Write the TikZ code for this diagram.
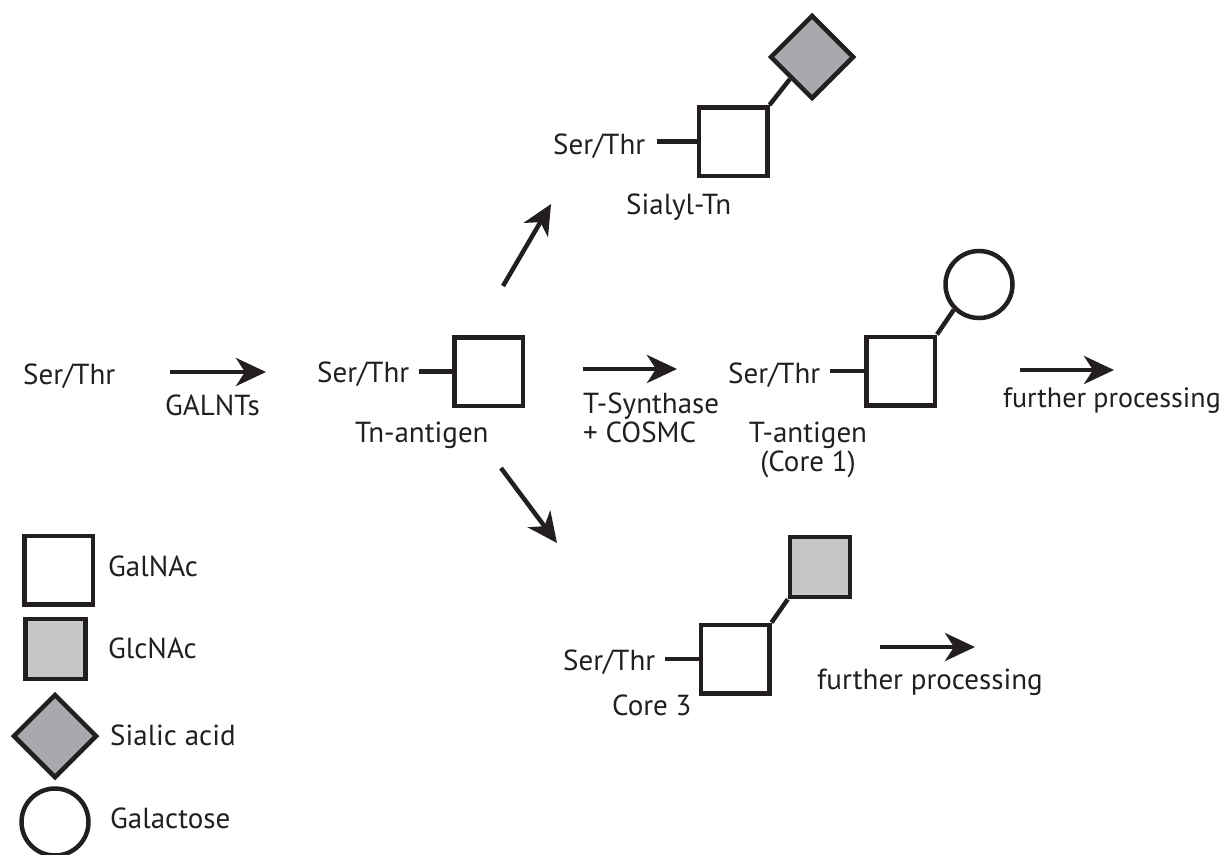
\documentclass[tikz,border=0pt]{standalone}
\usepackage{fontspec}
\setmainfont{PT Sans}
\usetikzlibrary{arrows.meta,shapes.geometric}
\definecolor{ink}{HTML}{231F20}
\definecolor{siagray}{HTML}{A7A9AC}
\definecolor{glcgray}{HTML}{C6C7C9}
\begin{document}
\begin{tikzpicture}[x=1pt,y=-1pt,
  txt/.style={font=\fontsize{29}{34}\selectfont, text=ink, inner sep=0pt, anchor=base west},
  ctxt/.style={font=\fontsize{29}{34}\selectfont, text=ink, inner sep=0pt, anchor=base},
  sugar/.style={draw=ink, line width=4.5pt, inner sep=0pt},
  galnac/.style={sugar, rectangle, fill=white, minimum size=68.5pt},
  glcnac/.style={sugar, rectangle, fill=glcgray, minimum size=60pt},
  sialic/.style={sugar, diamond, aspect=1, fill=siagray, minimum width=84pt, minimum height=84pt},
  galac/.style={sugar, circle, fill=white, minimum size=67pt},
  bond/.style={draw=ink, line width=4.5pt},
  rxn/.style={draw=ink, line width=4.5pt, -{Stealth[length=30pt,width=28pt,inset=9pt]}}
]
\useasboundingbox (0,0) rectangle (1228,854);
\fill[white] (0,0) rectangle (1228,854);

% ---- step 1
\node[txt] (ser0) at (23,384) {Ser/Thr};
\coordinate (a1s) at (170,372);
\coordinate (a1e) at (266,372);
\draw[rxn] (a1s) -- (a1e);
\node[txt] (galnts) at (165,415) {GALNTs};

% ---- Tn antigen
\node[txt] (serTn) at (317,382) {Ser/Thr};
\node[galnac] (tn) at (488.5,371.5) {};
\draw[bond] ([xshift=10pt]serTn.east |- tn.west) -- (tn.west);
\node[txt] (tnlab) at (355,442) {Tn-antigen};

% ---- arrows out of Tn
\coordinate (a2s) at (503,286);
\coordinate (a2e) at (551,204);
\draw[rxn] (a2s) -- (a2e);
\coordinate (a3s) at (583,369);
\coordinate (a3e) at (677,369);
\draw[rxn] (a3s) -- (a3e);
\node[txt] (tsyn) at (583,413) {T-Synthase};
\node[txt] (cosmc) at (583,442) {+ COSMC};
\coordinate (a4s) at (501,468);
\coordinate (a4e) at (557,543);
\draw[rxn] (a4s) -- (a4e);

% ---- Sialyl-Tn
\node[txt] (serS) at (553,154) {Ser/Thr};
\node[galnac] (sq1) at (733,141.5) {};
\node[sialic] (sia1) at (812,57) {};
\draw[bond] (sq1.north east) -- (sia1.south west);
\draw[bond] ([xshift=12pt]serS.east |- sq1.west) -- (sq1.west);
\node[txt] (stn) at (626,214) {Sialyl-Tn};

% ---- T antigen
\node[txt] (serT) at (728,383) {Ser/Thr};
\node[galnac] (sq2) at (900.5,371) {};
\node[galac] (gal1) at (979,284.5) {};
\draw[bond] (sq2.north east) -- (gal1.south west);
\draw[bond] ([xshift=10pt]serT.east |- sq2.west) -- (sq2.west);
\node[ctxt] (tant) at (808,442) {T-antigen};
\node[ctxt] (core1) at (808,471) {(Core 1)};
\coordinate (a5s) at (1020,370);
\coordinate (a5e) at (1114,370);
\draw[rxn] (a5s) -- (a5e);
\node[txt, font=\fontsize{28}{32}\selectfont, anchor=base east] (fp1) at (1221,407) {further processing};

% ---- Core 3
\node[txt] (serC) at (563,670) {Ser/Thr};
\node[galnac] (sq3) at (735,659) {};
\node[glcnac] (glc1) at (820,567) {};
\draw[bond] (sq3.north east) -- (glc1.south west);
\draw[bond] ([xshift=10pt]serC.east |- sq3.west) -- (sq3.west);
\node[txt] (c3) at (612,715) {Core 3};
\coordinate (a6s) at (880,647);
\coordinate (a6e) at (975,647);
\draw[rxn] (a6s) -- (a6e);
\node[txt] (fp2) at (817,689) {further processing};

% ---- legend
\node[galnac] (lg1) at (58.5,570) {};
\node[txt] (lg1t) at (108,576) {GalNAc};
\node[glcnac] (lg2) at (55.5,649) {};
\node[txt] (lg2t) at (108,658) {GlcNAc};
\node[sialic] (lg3) at (55,736) {};
\node[txt] (lg3t) at (110,745) {Sialic acid};
\node[galac] (lg4) at (55,822) {};
\node[txt] (lg4t) at (110,828) {Galactose};
\end{tikzpicture}
\end{document}
